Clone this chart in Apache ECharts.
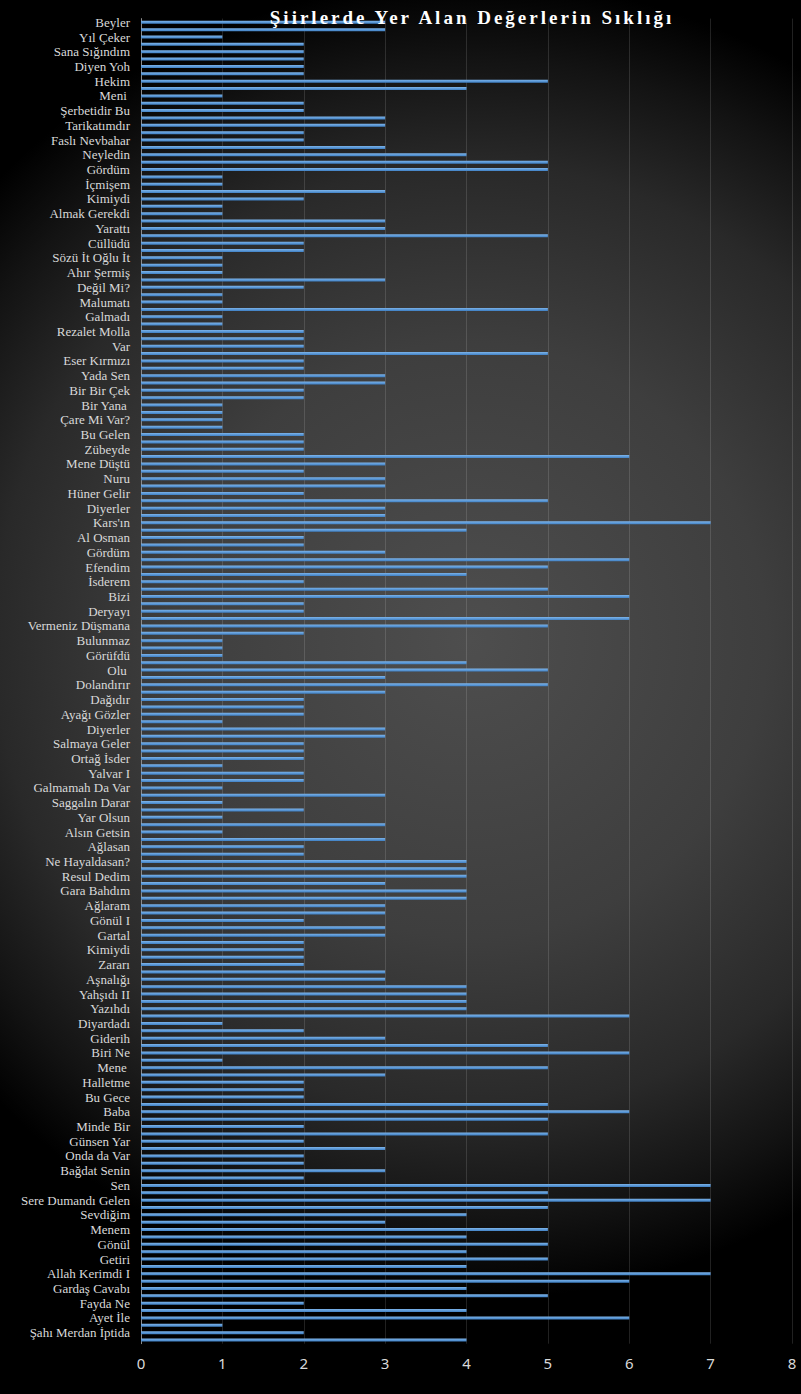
<!DOCTYPE html>
<html>
<head>
<meta charset="utf-8">
<script src="https://cdn.jsdelivr.net/npm/echarts@6/dist/echarts.min.js"></script>
<style>
html,body{margin:0;padding:0;background:#000;}
#c{width:801px;height:1394px;}
</style>
</head>
<body>
<div id="c"></div>
<script>
const titleText = 'Şiirlerde Yer Alan Değerlerin Sıklığı';

// Labelled categories (every other category carries a label)
const labels = [
  "Beyler","Yıl Çeker","Sana Sığındım","Diyen Yoh","Hekim","Meni ","Şerbetidir Bu","Tarikatımdır",
  "Faslı Nevbahar","Neyledin","Gördüm","İçmişem","Kimiydi","Almak Gerekdi","Yarattı","Cüllüdü",
  "Sözü İt Oğlu İt","Ahır Şermiş","Değil Mi?","Malumatı","Galmadı","Rezalet Molla","Var","Eser Kırmızı",
  "Yada Sen","Bir Bir Çek","Bir Yana ","Çare Mi Var?","Bu Gelen","Zübeyde","Mene Düştü","Nuru",
  "Hüner Gelir","Diyerler","Kars'ın","Al Osman","Gördüm","Efendim","İsderem","Bizi",
  "Deryayı","Vermeniz Düşmana","Bulunmaz","Görüfdü","Olu ","Dolandırır","Dağıdır","Ayağı Gözler",
  "Diyerler","Salmaya Geler","Ortağ İsder","Yalvar I","Galmamah Da Var","Saggalın Darar","Yar Olsun","Alsın Getsin",
  "Ağlasan","Ne Hayaldasan?","Resul Dedim","Gara Bahdım","Ağlaram","Gönül I","Gartal","Kimiydi",
  "Zararı","Aşnalığı","Yahşıdı II","Yazıhdı","Diyardadı","Giderih","Biri Ne","Mene ",
  "Halletme","Bu Gece","Baba","Minde Bir","Günsen Yar","Onda da Var","Bağdat Senin","Sen",
  "Sere Dumandı Gelen","Sevdiğim","Menem","Gönül","Getiri","Allah Kerimdi I","Gardaş Cavabı","Fayda Ne",
  "Ayet İle","Şahı Merdan İptida"
];

// One value per category, top to bottom (180 categories)
const values = [
  3,3,1,2,2,2,2,2,5,4,1,2,2,3,
  3,2,2,3,4,5,5,1,1,3,2,1,1,3,3,5,
  2,2,1,1,1,3,2,1,1,5,1,1,2,2,2,5,
  2,2,3,3,2,2,1,1,1,1,2,2,2,6,3,2,3,
  3,2,5,3,3,7,4,2,2,3,6,5,4,2,5,6,2,
  2,6,5,2,1,1,1,4,5,3,5,3,2,2,2,1,
  3,3,2,2,2,1,2,2,1,3,1,2,1,3,1,3,
  2,2,4,4,4,3,4,4,3,3,2,3,3,2,2,2,2,
  3,3,4,4,4,4,6,1,2,3,5,6,1,5,3,2,
  2,2,5,6,5,2,5,2,3,2,2,3,2,7,5,7,
  5,4,3,5,4,5,4,5,4,7,6,4,5,2,4,6,1,2,4
];

const xMin = 0, xMax = 8, xStep = 1;

const categories = labels.flatMap(l => [l, '']);

const chart = echarts.init(document.getElementById('c'), null, {renderer: 'svg', width: 801, height: 1394});

chart.setOption({
  animation: false,
  backgroundColor: {
    type: 'radial', x: 470, y: 640, r: 660, global: true,
    colorStops: [
      {offset: 0, color: '#4e4e4e'},
      {offset: 0.45, color: '#3e3e3e'},
      {offset: 0.72, color: '#292929'},
      {offset: 0.88, color: '#131313'},
      {offset: 1, color: '#000000'}
    ]
  },
  title: {
    text: titleText,
    left: 467, top: 3, textAlign: 'center',
    textStyle: {fontFamily: '"Liberation Serif", "Times New Roman", serif', fontWeight: 'bold', fontSize: 19, color: '#ffffff'}
  },
  grid: {left: 141, right: 9, top: 18.6, bottom: 50.3},
  xAxis: {
    type: 'value', min: xMin, max: xMax, interval: xStep,
    axisLine: {show: false}, axisTick: {show: false},
    splitLine: {show: true, lineStyle: {color: 'rgba(255,255,255,0.13)', width: 1}},
    axisLabel: {color: '#d9d9d9', fontSize: 15, fontFamily: '"Liberation Sans Narrow", "Noto Sans", sans-serif', margin: 12}
  },
  yAxis: {
    type: 'category', inverse: true, data: categories,
    axisTick: {show: false},
    axisLine: {show: true, lineStyle: {color: '#8a8a8a', width: 1}},
    splitLine: {show: false},
    axisLabel: {interval: 1, color: '#d9d9d9', fontSize: 13, fontFamily: '"Liberation Serif", "Times New Roman", serif', margin: 11, padding: [3, 0, 0, 0]}
  },
  series: [{
    type: 'bar',
    data: values,
    barWidth: 3,
    itemStyle: {
      color: {type: 'linear', x: 0, y: 0, x2: 0, y2: 1, colorStops: [
        {offset: 0, color: '#7db4ea'}, {offset: 1, color: '#3f80c4'}
      ]}
    }
  }]
});

function spaceTitle() {
  document.querySelectorAll('#c svg text').forEach(t => {
    if (t.textContent === titleText) t.style.letterSpacing = '3px';
  });
}
spaceTitle();
chart.on('finished', spaceTitle);
</script>
</body>
</html>
